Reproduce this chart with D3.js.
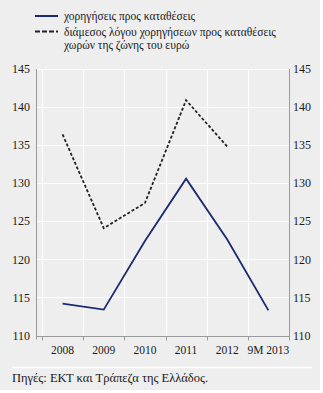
<!DOCTYPE html>
<html><head><meta charset="utf-8">
<script src="https://cdn.jsdelivr.net/npm/d3@7"></script>
<style>
html,body{margin:0;padding:0;background:#fff;}
svg{display:block;}
text{font-family:"Liberation Serif","Times New Roman",serif;fill:#1a1a1a;}
</style></head>
<body>
<svg id="c" width="323" height="393"></svg>
<script>
const categories = ["2008","2009","2010","2011","2012","9M 2013"];
const loansToDeposits = [114.2, 113.4, 122.4, 130.6, 122.6, 113.3];
const euroMedian = [136.4, 124.1, 127.4, 140.9, 134.8];
const yTicks = [110,115,120,125,130,135,140,145];
const seriesNames = ["χορηγήσεις προς καταθέσεις", "διάμεσος λόγου χορηγήσεων προς καταθέσεις", "χωρών της ζώνης του ευρώ"];
const sourceText = "Πηγές: ΕΚΤ και Τράπεζα της Ελλάδος.";

const svg = d3.select("#c");
svg.append("rect").attr("x",0).attr("y",0).attr("width",320).attr("height",390).attr("fill","#eeeeee");

const x = d3.scaleBand().domain(categories).range([42,289]).padding(0);
const y = d3.scaleLinear().domain([110,145]).range([335.5,69]);
const axisLeftX = 36.5, axisRightX = 289;

// horizontal gridlines
svg.append("g").selectAll("line").data(yTicks).join("line")
  .attr("x1",axisLeftX).attr("x2",axisRightX)
  .attr("y1",d=>Math.round(y(d))+0.5).attr("y2",d=>Math.round(y(d))+0.5)
  .attr("stroke","#fff").attr("stroke-width",1.2);
// vertical gridlines at category boundaries
svg.append("g").selectAll("line").data(categories).join("line")
  .attr("x1",d=>Math.round(x(d))+0.5).attr("x2",d=>Math.round(x(d))+0.5)
  .attr("y1",y(145)).attr("y2",y(110))
  .attr("stroke","#fff").attr("stroke-width",1.2);

// axes lines
const ax = svg.append("g").attr("stroke","#9a9a9a").attr("stroke-width",1).attr("fill","none");
ax.append("line").attr("x1",axisLeftX).attr("x2",axisLeftX).attr("y1",y(145)).attr("y2",y(110)+4);
ax.append("line").attr("x1",axisRightX+0.5).attr("x2",axisRightX+0.5).attr("y1",y(145)).attr("y2",y(110)+4);
ax.append("line").attr("x1",axisLeftX).attr("x2",axisRightX+0.5).attr("y1",Math.round(y(110))+0.5).attr("y2",Math.round(y(110))+0.5);
const bounds = categories.map(d=>x(d)).concat([x.range()[1]]);
ax.selectAll("line.t").data(bounds).join("line").attr("class","t")
  .attr("x1",d=>Math.round(d)+0.5).attr("x2",d=>Math.round(d)+0.5)
  .attr("y1",Math.round(y(110))+0.5).attr("y2",Math.round(y(110))+4.5);

// y tick labels
svg.append("g").selectAll("text").data(yTicks).join("text")
  .attr("x",30).attr("y",d=>y(d)).attr("dy","0.35em").attr("text-anchor","end")
  .attr("font-size",12).text(d=>d);
svg.append("g").selectAll("text").data(yTicks).join("text")
  .attr("x",293).attr("y",d=>y(d)).attr("dy","0.35em").attr("text-anchor","start")
  .attr("font-size",12).text(d=>d);
// category labels
svg.append("g").selectAll("text").data(categories).join("text")
  .attr("x",d=>x(d)+x.bandwidth()/2).attr("y",350).attr("dy","0.35em").attr("text-anchor","middle")
  .attr("font-size",11.5).text(d=>d);

// lines
const line = d3.line().x((d,i)=>x(categories[i])+x.bandwidth()/2).y(d=>y(d));
svg.append("path").datum(euroMedian).attr("d",line).attr("fill","none")
  .attr("stroke","#222").attr("stroke-width",1.8).attr("stroke-dasharray","3,2");
svg.append("path").datum(loansToDeposits).attr("d",line).attr("fill","none")
  .attr("stroke","#1b2a6e").attr("stroke-width",1.8);

// legend
const lg = svg.append("g");
lg.append("line").attr("x1",35).attr("x2",58).attr("y1",16).attr("y2",16).attr("stroke","#1b2a6e").attr("stroke-width",2);
lg.append("line").attr("x1",35).attr("x2",58).attr("y1",31.5).attr("y2",31.5).attr("stroke","#222").attr("stroke-width",2).attr("stroke-dasharray","5,2");
lg.append("text").attr("x",64).attr("y",16).attr("dy","0.35em").attr("font-size",11.5).text(seriesNames[0]);
lg.append("text").attr("x",64).attr("y",31.5).attr("dy","0.35em").attr("font-size",11.5).text(seriesNames[1]);
lg.append("text").attr("x",64).attr("y",44.5).attr("dy","0.35em").attr("font-size",11.5).text(seriesNames[2]);

// separator and source
svg.append("line").attr("x1",12).attr("x2",312).attr("y1",367.5).attr("y2",367.5).attr("stroke","#fff").attr("stroke-width",1.5);
svg.append("text").attr("x",12).attr("y",377.5).attr("dy","0.35em").attr("font-size",12.5).text(sourceText);
</script>
</body></html>
